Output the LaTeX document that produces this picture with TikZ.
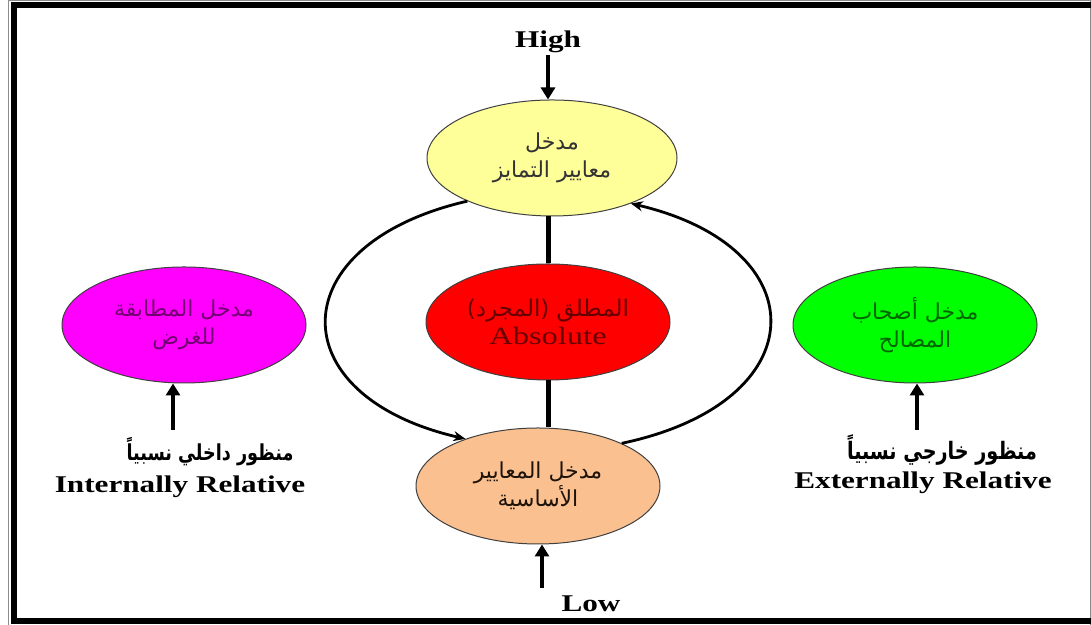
\documentclass[tikz,border=0pt]{standalone}
\usepackage{fontspec}
\setmainfont{Liberation Serif}[FakeStretch=1.3]
\newfontfamily\arabicfont[Script=Arabic]{DejaVu Sans}
\newfontfamily\arabicnarrow[Script=Arabic,FakeStretch=0.8]{DejaVu Sans}
\TeXXeTstate=1
\usepackage{xcolor}
\usetikzlibrary{shapes.geometric,arrows.meta,positioning}
\definecolor{excyel}{RGB}{255,255,153}
\definecolor{baspch}{RGB}{250,192,144}
\definecolor{fitpnk}{RGB}{255,0,255}
\definecolor{stkgrn}{RGB}{0,255,0}
\definecolor{absred}{RGB}{255,0,0}
\tikzset{
	approach/.style={ellipse,draw=black!75,line width=0.5pt,minimum width=122pt,minimum height=58pt,inner sep=0pt,align=center,font=\arabicfont\fontsize{11}{14}\selectfont},
	lbl/.style={inner sep=1pt,font=\bfseries\fontsize{12}{14}\selectfont},
	arlbl/.style={inner sep=1pt,font=\arabicnarrow\bfseries\fontsize{#1}{14}\selectfont},
	uparr/.style={line width=2pt,-{Triangle[length=6pt,width=7pt]}},
	looparr/.style={line width=1.4pt,-{Stealth[length=6pt,width=5pt]}},
	stem/.style={line width=2.5pt}
}
\begin{document}
\begin{tikzpicture}[x=0.5pt,y=0.5pt]
		\useasboundingbox (0,0) rectangle (1091,625);
		\clip (0,0) rectangle (1091,625);
		\draw [black!45,line width=0.5pt] (8,624) rectangle (1090,-10);
		\draw [line width=3pt] (13.5,619.5) rectangle (1110,4);
		\node [approach,fill=absred,text=absred!40!black] (abs) at (548,303) {\fontsize{11.5}{16}\selectfont\beginR المطلق (المجرد)\endR\\{\rmfamily\fontsize{12.5}{16}\selectfont Absolute}};
		\node [approach,above of=abs,node distance=82pt,xshift=2pt,minimum width=125pt,fill=excyel,text=black!80] (yel) {\beginR مدخل\endR\\\beginR معايير التمايز\endR};
		\node [approach,below of=abs,node distance=82pt,xshift=-5pt,fill=baspch,text=black!85!brown] (bas) {\beginR مدخل المعايير\endR\\\beginR الأساسية\endR};
		\node [approach,left of=abs,node distance=182pt,yshift=-1.5pt,fill=fitpnk,text=fitpnk!45!black] (fit) {\beginR مدخل المطابقة\endR\\\beginR للغرض\endR};
		\node [approach,right of=abs,node distance=183.5pt,yshift=-1.5pt,fill=stkgrn,text=stkgrn!40!black] (stk) {\beginR مدخل أصحاب\endR\\\beginR المصالح\endR};
		\draw [stem] (abs.north) -- (abs.north |- yel.south);
		\draw [stem] (abs.south) -- (abs.south |- bas.north);
		\node [lbl] (hi) at (548,583) {High};
		\draw [uparr] (hi.south) -- (hi.south |- yel.north);
		\node [lbl] (lo) at (591,21) {Low};
		\coordinate (lofoot) at (542,37);
		\draw [uparr] (lofoot) -- (lofoot |- bas.south);
		\draw [looparr] (yel.207) .. controls +(-187,-43) and +(-187,43) .. (bas.147);
		\draw [looparr] (bas.27) .. controls +(195,41) and +(188,-44) .. (yel.330);
		\node [arlbl=11] (inar) at (210,173) {\beginR منظور داخلي نسبياً\endR};
		\node [lbl] (inen) at (180,138) {Internally Relative};
		\coordinate (infoot) at (173,195);
		\draw [uparr] (infoot) -- (infoot |- fit.south);
		\node [arlbl=12] (exar) at (942,175) {\beginR منظور خارجي نسبياً\endR};
		\node [lbl] (exen) at (923,142) {Externally Relative};
		\coordinate (exfoot) at (917,195);
		\draw [uparr] (exfoot) -- (exfoot |- stk.south);
		% \node [lbl,right of=abs,node distance=3cm]{};
	\end{tikzpicture}
\end{document}
